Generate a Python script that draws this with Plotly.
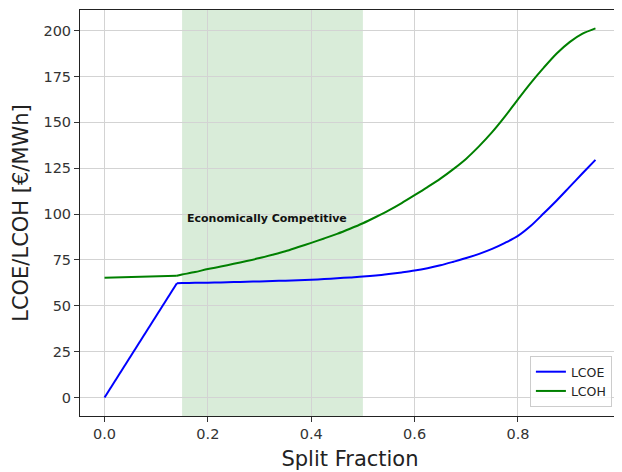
import plotly.graph_objects as go

split_fraction = [0.0, 0.14, 0.15, 0.175, 0.2, 0.225, 0.25, 0.275, 0.3, 0.325, 0.35, 0.375,
                  0.4, 0.425, 0.45, 0.475, 0.5, 0.525, 0.55, 0.575, 0.6, 0.625, 0.65, 0.675,
                  0.7, 0.725, 0.75, 0.775, 0.8, 0.825, 0.85, 0.875, 0.9, 0.925, 0.95]

lcoe = [0.0, 62.3, 62.4, 62.5, 62.6, 62.75, 62.9, 63.1, 63.3, 63.5, 63.7, 63.95,
        64.2, 64.6, 65.0, 65.45, 65.9, 66.5, 67.3, 68.2, 69.2, 70.5, 72.1, 74.0,
        76.0, 78.3, 81.0, 84.3, 88.1, 93.6, 100.4, 107.4, 114.8, 122.2, 129.5]

lcoh = [65.3, 66.4, 67.0, 68.4, 70.0, 71.4, 72.9, 74.4, 76.0, 77.8, 79.7, 82.0,
        84.3, 86.7, 89.2, 92.0, 95.0, 98.4, 102.0, 106.0, 110.3, 114.7, 119.3, 124.5,
        130.2, 137.0, 144.6, 153.2, 162.5, 171.5, 179.8, 187.5, 193.7, 198.3, 201.2]

competitive_range = [0.15, 0.5]
x_ticks = [0.0, 0.2, 0.4, 0.6, 0.8]
y_ticks = [0, 25, 50, 75, 100, 125, 150, 175, 200]

KINK = 1  # index where the straight initial segment ends

font = "DejaVu Sans"
series = [("LCOE", lcoe, "#0000ff"), ("LCOH", lcoh, "#008000")]

fig = go.Figure()
for name, vals, color in series:
    # smooth part (carries the legend entry)
    fig.add_trace(go.Scatter(x=split_fraction[KINK:], y=vals[KINK:], mode="lines",
                             name=name, showlegend=True,
                             line=dict(color=color, width=2, shape="spline", smoothing=0.8)))
for name, vals, color in series:
    # straight initial segment
    fig.add_trace(go.Scatter(x=split_fraction[:KINK + 1], y=vals[:KINK + 1], mode="lines",
                             name=name, showlegend=False,
                             line=dict(color=color, width=2)))

fig.add_shape(type="rect", xref="x", yref="paper",
              x0=competitive_range[0], x1=competitive_range[1], y0=0, y1=1,
              fillcolor="rgba(0,128,0,0.15)", line=dict(width=0), layer="below")

fig.add_annotation(x=0.155, y=97.5, xref="x", yref="y", text="<b>Economically Competitive</b>",
                   showarrow=False, xanchor="left", yanchor="middle",
                   font=dict(family=font, size=11, color="#111"))

axis_common = dict(showline=True, linecolor="#222", linewidth=1, mirror=True,
                   ticks="outside", ticklen=5, tickcolor="#333", tickwidth=1,
                   showgrid=True, gridcolor="#d3d3d3", gridwidth=1, zeroline=False,
                   tickfont=dict(family=font, size=14.5, color="#333"))

fig.update_xaxes(range=[-0.0475, 0.9975], tickvals=x_ticks,
                 ticktext=[f"{v:.1f}" for v in x_ticks],
                 title=dict(text="Split Fraction", font=dict(family=font, size=21, color="#222"), standoff=9),
                 **axis_common)
fig.update_yaxes(range=[-10.06, 211.2], tickvals=y_ticks,
                 title=dict(text="LCOE/LCOH [€/MWh]", font=dict(family=font, size=21, color="#222"), standoff=9),
                 **axis_common)

fig.update_layout(width=614, height=464, margin=dict(l=72, r=2, t=2, b=56),
                  plot_bgcolor="white", paper_bgcolor="white",
                  font=dict(family=font),
                  legend=dict(x=0.985, y=0.022, xanchor="right", yanchor="bottom",
                              tracegroupgap=0,
                              bordercolor="#cccccc", borderwidth=1, bgcolor="rgba(255,255,255,0.8)",
                              font=dict(family=font, size=12.5, color="#222")),
                  showlegend=True)

fig.write_html("out.html")
